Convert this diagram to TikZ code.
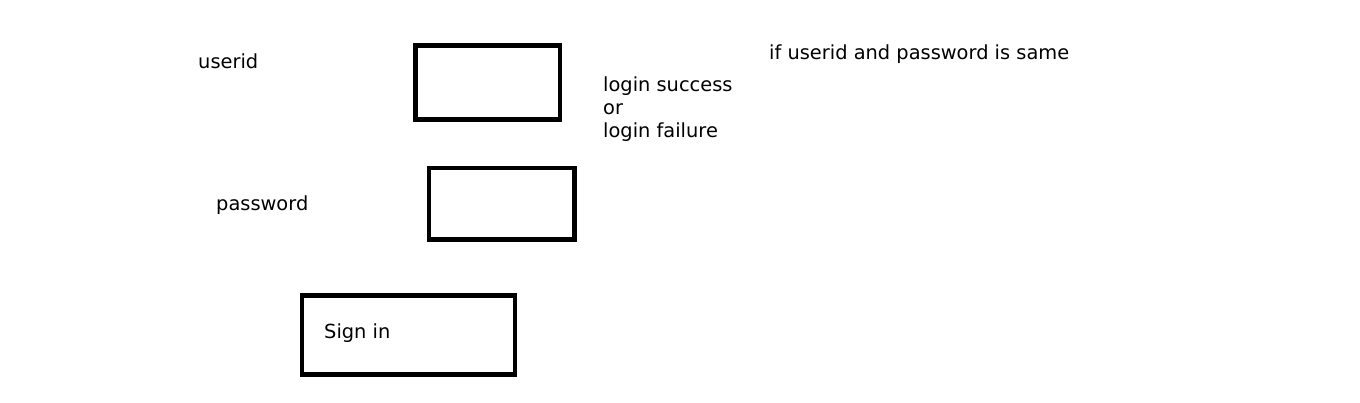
\documentclass[tikz,border=0pt]{standalone}
\usepackage{fontspec}
\setmainfont{DejaVu Sans}
\begin{document}
\begin{tikzpicture}[x=1pt,y=-1pt,
  field/.style={draw=black,line width=4.5pt,inner sep=0pt,fill=white},
  lbl/.style={anchor=base west,inner sep=0pt,font=\fontsize{19.4}{23}\selectfont}]
\useasboundingbox[fill=white] (0,0) rectangle (1360,403);
\node[field,minimum width=144.5pt,minimum height=74pt] (useridbox) at (487.75,82.5) {};
\node[field,minimum width=145.5pt,minimum height=71.5pt] (passbox) at (501.75,203.75) {};
\node[field,minimum width=213pt,minimum height=79pt] (signbox) at (408.5,335) {};
\node[lbl] (userid) at (198,68.5) {userid};
\node[lbl] (password) at (216,210.5) {password};
\node[lbl] (signin) at (324,338) {Sign in};
\node[lbl] (res1) at (603,92) {login success};
\node[lbl] (res2) at (603,115) {or};
\node[lbl] (res3) at (603,138) {login failure};
\node[lbl] (cond) at (769,59.5) {if userid and password is same};
\end{tikzpicture}
\end{document}
